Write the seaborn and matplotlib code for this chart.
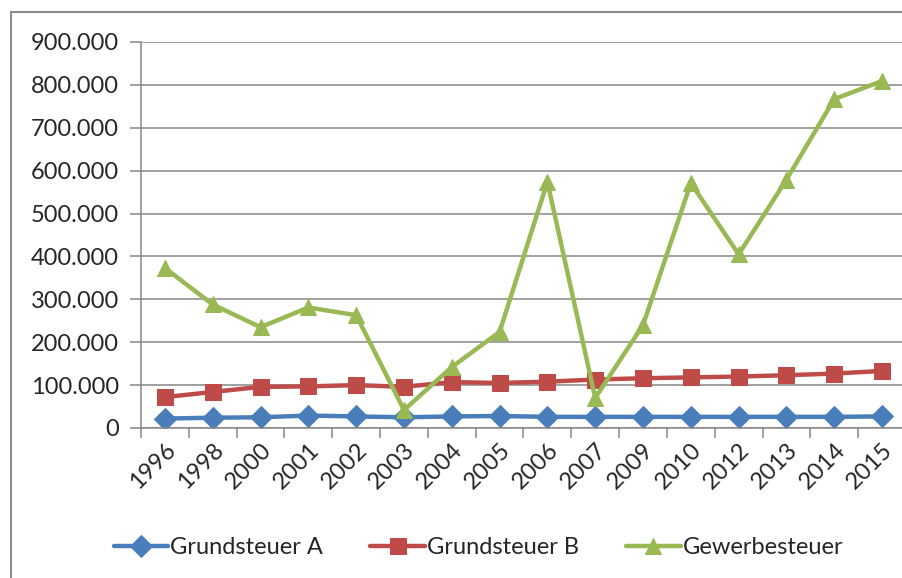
import pandas as pd
import numpy as np
import matplotlib.pyplot as plt
import seaborn as sns
from matplotlib.patches import Rectangle
from matplotlib.ticker import FuncFormatter, MultipleLocator

years = ['1996', '1998', '2000', '2001', '2002', '2003', '2004', '2005',
         '2006', '2007', '2009', '2010', '2012', '2013', '2014', '2015']
grundsteuer_a = [22000, 24000, 25000, 29000, 27000, 25000, 27000, 28000,
                 26000, 26000, 26000, 26000, 26000, 26000, 26000, 27000]
grundsteuer_b = [72000, 84000, 96000, 97000, 100000, 96000, 107000, 105000,
                 108000, 113000, 116000, 118000, 120000, 123000, 127000, 133000]
gewerbesteuer = [373000, 288000, 235000, 281000, 263000, 42000, 142000, 224000,
                 574000, 70000, 240000, 571000, 405000, 579000, 767000, 809000]

series = [
    ('Grundsteuer A', grundsteuer_a, '#4A7EBB', 'D', 11),
    ('Grundsteuer B', grundsteuer_b, '#BE4B48', 's', 11),
    ('Gewerbesteuer', gewerbesteuer, '#98B954', '^', 12),
]

sns.set_style('white')
plt.rcParams['font.family'] = ['Lato', 'DejaVu Sans']

fig = plt.figure(figsize=(9.03, 5.78), dpi=100)
ax = fig.add_axes([141 / 903, 1 - 428 / 578, 765 / 903, 386 / 578])

pos = np.arange(len(years))
for name, vals, col, mk, ms in series:
    df = pd.DataFrame({'pos': pos, 'val': vals})
    sns.lineplot(data=df, x='pos', y='val', ax=ax, color=col, lw=3.2,
                 marker=mk, markersize=ms, markeredgecolor=col,
                 label=name, sort=False, legend=False)

ax.set_xlim(-0.5, len(years) - 0.5)
ax.set_ylim(0, 900000)
ax.yaxis.set_major_locator(MultipleLocator(100000))
ax.yaxis.set_major_formatter(FuncFormatter(lambda v, p: f"{int(v):,}".replace(",", ".")))
ax.grid(axis='y', color='#868686', lw=1.1)
ax.set_axisbelow(True)

ax.set_xticks(pos)
ax.set_xticklabels(years, rotation=45, ha='right', rotation_mode='anchor')
ax.set_xticks(np.arange(-0.5, len(years)), minor=True)
ax.tick_params(axis='x', which='major', length=0, labelsize=17, pad=8)
ax.tick_params(axis='x', which='minor', length=7, width=1.1, color='#868686',
               direction='out', bottom=True)
ax.tick_params(axis='y', length=8, width=1.1, color='#868686', direction='out',
               left=True, labelsize=17, pad=8)
ax.set_xlabel('')
ax.set_ylabel('')

for side in ['top', 'right']:
    ax.spines[side].set_visible(False)
for side in ['left', 'bottom']:
    ax.spines[side].set_color('#868686')
    ax.spines[side].set_linewidth(1.1)

# chart area border (only top and left visible in crop)
fig.patches.append(Rectangle((11 / 903, -0.5), 2, 0.5 + 1 - 12 / 578,
                             transform=fig.transFigure, fill=False,
                             edgecolor='#8c8c8c', lw=1.5))

handles, labels = ax.get_legend_handles_labels()
fig.legend(handles, labels, loc='center', bbox_to_anchor=(0.53, 1 - 548 / 578),
           ncol=3, frameon=False, fontsize=17, handlelength=2.3,
           handletextpad=0.1, columnspacing=2.0, markerscale=1.0)

fig.savefig('out.png', dpi=100)
